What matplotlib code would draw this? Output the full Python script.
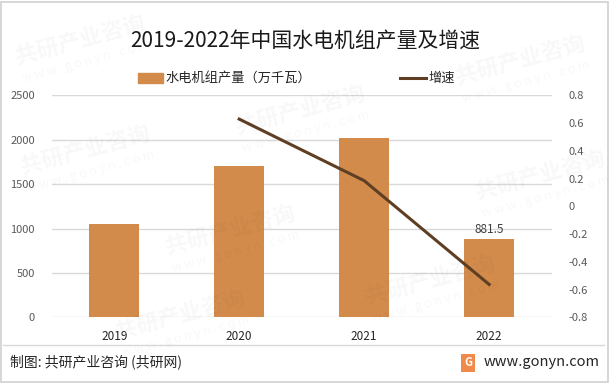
import matplotlib
matplotlib.use("Agg")
import matplotlib.pyplot as plt
from matplotlib.patches import Rectangle
from matplotlib.lines import Line2D
import numpy as np

plt.rcParams['font.family'] = ['Noto Sans CJK SC', 'DejaVu Sans']

years = ['2019', '2020', '2021', '2022']
production = [1049, 1701, 2016, 881.5]
growth = [None, 0.629, 0.185, -0.563]
title = '2019-2022年中国水电机组产量及增速'
bar_label = '水电机组产量（万千瓦）'
line_label = '增速'
left_ticks = [0, 500, 1000, 1500, 2000, 2500]
right_ticks = [-0.8, -0.6, -0.4, -0.2, 0, 0.2, 0.4, 0.6, 0.8]
right_tick_labels = ['-0.8', '-0.6', '-0.4', '-0.2', '0', '0.2', '0.4', '0.6', '0.8']

bar_color = '#d38b4c'
line_color = '#5e3f24'
grid_color = '#d9d9d9'
tick_color = '#595959'

fig = plt.figure(figsize=(6.10, 3.83), dpi=100)
fig.patch.set_facecolor('white')

ax = fig.add_axes([0.0848, 0.1715, 0.8195, 0.5795])
x = np.arange(len(years))
ax.bar(x, production, width=0.4, color=bar_color, zorder=2, label=bar_label)
ax.set_xlim(-0.5, len(years) - 0.5)
ax.set_ylim(0, 2500)
ax.set_yticks(left_ticks)
ax.set_yticklabels([str(t) for t in left_ticks])
ax.set_xticks(x)
ax.set_xticklabels(years)
ax.yaxis.grid(True, color=grid_color, linewidth=1, zorder=0)
ax.set_axisbelow(True)
for s in ax.spines.values():
    s.set_visible(False)
ax.tick_params(axis='y', length=0, labelsize=8, labelcolor=tick_color, pad=12)
ax.tick_params(axis='x', length=0, labelsize=8.5, labelcolor='#262626', pad=9)

ax.text(x[-1], production[-1] + 40, f'{production[-1]}', ha='center', va='bottom',
        fontsize=8.5, color='#404040')

ax2 = ax.twinx()
gx = [xi for xi, g in zip(x, growth) if g is not None]
gy = [g for g in growth if g is not None]
ax2.plot(gx, gy, color=line_color, linewidth=2.2, zorder=3, label=line_label)
ax2.set_ylim(-0.8, 0.8)
ax2.set_yticks(right_ticks)
ax2.set_yticklabels(right_tick_labels)
for s in ax2.spines.values():
    s.set_visible(False)
ax2.tick_params(axis='y', length=0, labelsize=8, labelcolor=tick_color, pad=12)

fig.text(0.5, 0.895, title, ha='center', va='center', fontsize=15, color='#1a1a1a')

ly = 1 - 78 / 383
fig.patches.append(Rectangle((138 / 610, ly - 0.014), 25 / 610, 0.028,
                             transform=fig.transFigure, color=bar_color))
fig.text(165 / 610, ly, bar_label, ha='left', va='center', fontsize=9.5, color='#262626')
fig.lines.append(Line2D([400 / 610, 426 / 610], [ly, ly], transform=fig.transFigure,
                        color=line_color, linewidth=2.2))
fig.text(428 / 610, ly, line_label, ha='left', va='center', fontsize=9.5, color='#262626')

wm_positions = [(85, 150), (300, 110), (520, 60), (180, 315), (430, 280), (80, 40),
                (540, 175), (230, 230)]
for (px, py) in wm_positions:
    fig.text(px / 610, 1 - py / 383, '共研产业咨询', fontsize=16, fontweight='bold',
             color='#000000', alpha=0.03, rotation=15, ha='center', va='center')
    fig.text(px / 610 + 0.01, 1 - (py + 22) / 383, 'w w w . g o n y n . c o m', fontsize=9,
             color='#000000', alpha=0.03, rotation=15, ha='center', va='center')

fig.lines.append(Line2D([3 / 610, 604 / 610], [1 - 345 / 383, 1 - 345 / 383],
                        transform=fig.transFigure, color='#d9d9d9', linewidth=1))
fig.text(10 / 610, 1 - 362 / 383, '制图: 共研产业咨询 (共研网)', ha='left', va='center',
         fontsize=10, color='#262626')
fig.text(600 / 610, 1 - 362 / 383, 'www.gonyn.com', ha='right', va='center',
         fontsize=10.5, color='#262626')
fig.text(468 / 610, 1 - 363 / 383, 'G', ha='center', va='center', fontsize=8,
         fontweight='bold', color='white',
         bbox=dict(boxstyle='square,pad=0.25', facecolor='#f08a4b', edgecolor='none'))

fig.patches.append(Rectangle((1 / 610, 1 / 383), 607 / 610, 380 / 383, transform=fig.transFigure,
                             fill=False, edgecolor='#d0d0d0', linewidth=1.2))

fig.savefig('out.png', dpi=100)
